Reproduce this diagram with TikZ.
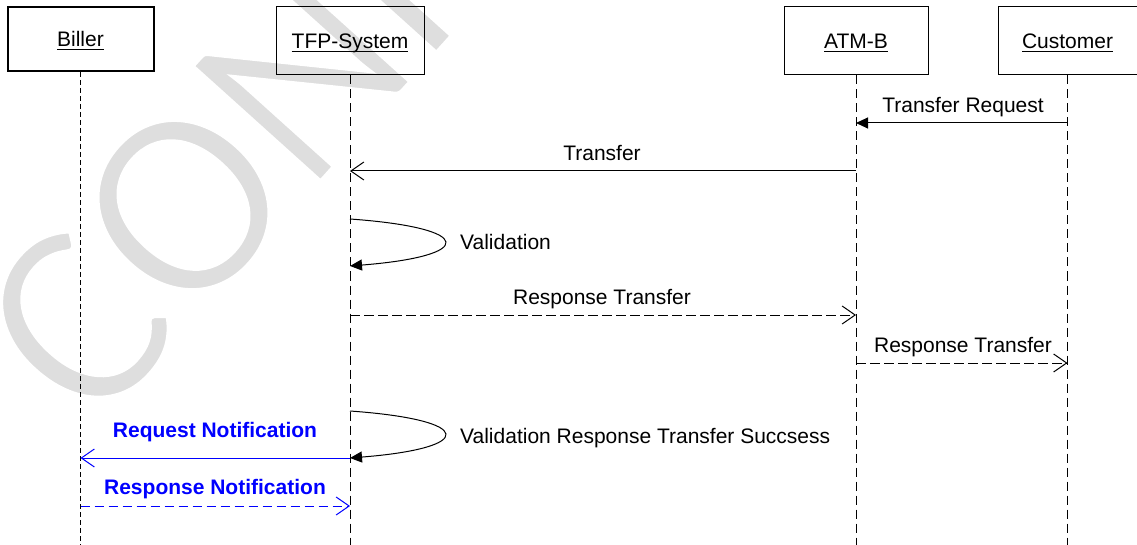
\documentclass[tikz,border=0pt]{standalone}
\usepackage{fontspec}
\setmainfont{Liberation Sans}
\newfontfamily\wmfont{Carlito}
\usetikzlibrary{arrows.meta}
\definecolor{wmgray}{RGB}{222,222,222}
\definecolor{msgblue}{RGB}{0,0,255}
\newcommand\myul[1]{\setbox0=\hbox{#1}\rlap{\rule[-3.5pt]{\wd0}{1.1pt}}\box0}
\begin{document}
\begin{tikzpicture}[x=1pt,y=-1pt,
  every node/.style={font=\fontsize{21}{25}\selectfont},
  actor/.style={draw, line width=1pt, inner sep=0pt, text height=15pt, text depth=0pt},
  lifeline/.style={line width=1pt, dash pattern=on 9pt off 5pt},
  msg/.style={line width=1pt},
  reply/.style={line width=1pt, dash pattern=on 9.5pt off 4.5pt},
  openhead/.style={-{Straight Barb[length=13pt,width=18pt,line width=1pt]}},
  fillhead/.style={-{Triangle[length=12pt,width=11pt]}},
  lbl/.style={inner sep=0pt, anchor=base},
  bluelbl/.style={lbl, text=msgblue, font=\fontsize{21}{25}\selectfont\bfseries},
]
\useasboundingbox (0,0) rectangle (1137,545);
% watermark
\begin{scope}
\clip (0,0) rectangle (1137,545);
\node[rotate=48, anchor=base west, inner sep=0pt, text=wmgray,
      font=\wmfont\fontsize{270}{270}\selectfont] (wm) at (93,435)
  {\special{pdf:literal direct 2 Tr 1 1 1 RG 5 w}CONFIDENTIAL\special{pdf:literal direct 0 Tr}};
\end{scope}
% actors
\node[actor, line width=2pt, minimum width=146pt, minimum height=64pt] (biller) at (80.5,39) {\myul{Biller}};
\node[actor, minimum width=148pt, minimum height=68pt] (tfp) at (350,41) {\myul{TFP-System}};
\node[actor, minimum width=144pt, minimum height=68pt] (atm) at (856,41) {\myul{ATM-B}};
\node[actor, minimum width=139pt, minimum height=68pt] (cust) at (1067.5,41) {\myul{Customer}};
% lifeline ends
\coordinate (billerEnd) at (biller.south |- 0,545);
\coordinate (tfpEnd) at (tfp.south |- 0,545);
\coordinate (atmEnd) at (atm.south |- 0,545);
\coordinate (custEnd) at (cust.south |- 0,545);
\draw[line width=1pt, dash pattern=on 5pt off 3pt] (biller.south) -- (billerEnd);
\draw[lifeline] (tfp.south) -- (tfpEnd);
\draw[lifeline] (atm.south) -- (atmEnd);
\draw[lifeline] (cust.south) -- (custEnd);
% message points
\coordinate (m1s) at (cust.south |- 0,123);
\coordinate (m1e) at (atm.south |- 0,123);
\coordinate (m2s) at (atm.south |- 0,171);
\coordinate (m2e) at (tfp.south |- 0,171);
\coordinate (m3s) at (tfp.south |- 0,219);
\coordinate (m3e) at (tfp.south |- 0,266);
\coordinate (m4s) at (tfp.south |- 0,315);
\coordinate (m4e) at (atm.south |- 0,315);
\coordinate (m5s) at (atm.south |- 0,363);
\coordinate (m5e) at (cust.south |- 0,363);
\coordinate (m6s) at (tfp.south |- 0,411);
\coordinate (m6e) at (tfp.south |- 0,458);
\coordinate (m7s) at (tfp.south |- 0,458);
\coordinate (m7e) at (biller.south |- 0,458);
\coordinate (m8s) at (biller.south |- 0,506);
\coordinate (m8e) at (tfp.south |- 0,506);
% messages
\draw[msg, fillhead] (m1s) -- (m1e);
\draw[msg, openhead] (m2s) -- (m2e);
\draw[msg, fillhead] (m3s) .. controls +(126,9) and +(126,-10) .. (m3e);
\draw[reply, openhead] (m4s) -- (m4e);
\draw[reply, openhead] (m5s) -- (m5e);
\draw[msg, fillhead] (m6s) .. controls +(126,9) and +(126,-10) .. (m6e);
\draw[msg, openhead, draw=msgblue] (m7s) -- (m7e);
\draw[reply, openhead, draw=msgblue] (m8s) -- (m8e);
% labels
\node[lbl] (l1) at (963,113) {Transfer Request};
\node[lbl] (l2) at (602,161) {Transfer};
\node[lbl, anchor=base west] (l3) at (460,250) {Validation};
\node[lbl] (l4) at (602,304) {Response Transfer};
\node[lbl] (l5) at (963,352) {Response Transfer};
\node[lbl, anchor=base west] (l6) at (460,443) {Validation Response Transfer Succsess};
\node[bluelbl] (l7) at (215,437) {Request Notification};
\node[bluelbl] (l8) at (215,494) {Response Notification};
\end{tikzpicture}
\end{document}
